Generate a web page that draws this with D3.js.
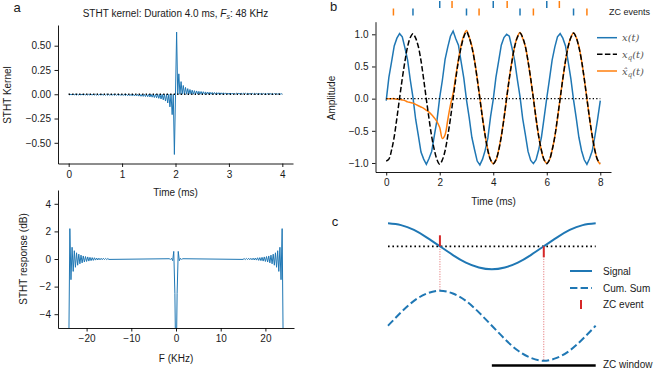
<!DOCTYPE html>
<html>
<head>
<meta charset="utf-8">
<script src="https://cdn.jsdelivr.net/npm/d3@7"></script>
<style>
body { margin: 0; background: #fff; }
svg text { font-family: "Liberation Sans", Arial, sans-serif; fill: #1a1a1a; }
.tick text { font-size: 10px; }
.math { font-family: "DejaVu Serif", serif; font-style: italic; }
</style>
</head>
<body>
<script>
// ---- panel a: STHT kernel, odd-sample amplitudes
var kernelFs = 48; // samples per ms
var kernelRight = [0.64, 0.21, 0.13, 0.09, 0.07, 0.058, 0.049, 0.042, 0.037, 0.034, 0.030, 0.028,
    0.026, 0.024, 0.022, 0.021, 0.019, 0.018, 0.017, 0.016, 0.015, 0.015, 0.014, 0.013,
    0.013, 0.012, 0.012, 0.011, 0.011, 0.011, 0.010, 0.010, 0.010, 0.009, 0.009, 0.009,
    0.008, 0.008, 0.008, 0.008, 0.007, 0.007, 0.007, 0.007, 0.007, 0.006, 0.006, 0.006];
var kernelLeft = [-0.62, -0.21, -0.13, -0.09, -0.07, -0.058, -0.049, -0.042, -0.037, -0.034, -0.030, -0.028,
    -0.026, -0.024, -0.022, -0.021, -0.019, -0.018, -0.017, -0.016, -0.015, -0.015, -0.014, -0.013,
    -0.013, -0.012, -0.012, -0.011, -0.011, -0.011, -0.010, -0.010, -0.010, -0.009, -0.009, -0.009,
    -0.008, -0.008, -0.008, -0.008, -0.007, -0.007, -0.007, -0.007, -0.007, -0.006, -0.006, -0.006];
var kernelTicksX = [0, 1, 2, 3, 4];
var kernelTicksY = [-0.5, -0.25, 0, 0.25, 0.5];

// ---- panel a: STHT response in dB (0.25 KHz grid)
var respStep = 0.25;
var respLeftStart = -24;
var respLeftDb = [-7, 2.2, -1.5, 0.85, -0.9, 0.6, -0.6, 0.45, -0.45, 0.35, -0.35, 0.28, -0.28,
    0.22, -0.22, 0.18, -0.18, 0.15, -0.15, 0.12, -0.12, 0.1, -0.1, 0.09, -0.08, 0.07, -0.07,
    0.06, -0.06, 0.05, -0.05, 0.05, -0.04, 0.04, -0.04, 0.03, -0.03];
var respCenterStart = -1.5;
var respCenterDb = [0.02, -0.03, 0.05, -0.12, 0.55, -2.5, -9, -2.5, 0.55, -0.12, 0.05, -0.03, 0.02];
var respRightStart = 15;
var respRightDb = [-0.03, 0.03, -0.04, 0.04, -0.04, 0.05, -0.05, 0.05, -0.06, 0.06, -0.07, 0.07,
    -0.08, 0.09, -0.1, 0.1, -0.12, 0.12, -0.15, 0.15, -0.18, 0.18, -0.22, 0.22, -0.28, 0.28,
    -0.35, 0.35, -0.45, 0.45, -0.6, 0.6, -0.9, 0.85, -1.5, 2.2, -7];
var respTicksX = [-20, -10, 0, 10, 20];
var respTicksY = [-4, -2, 0, 2, 4];

// ---- panel b: signals, one value every 0.1 ms from 0 to 8 ms
var sigStep = 0.1;
var xSignal = [
    -0.03, 0.33, 0.57, 0.82, 0.94, 1.01, 0.96, 0.79, 0.60, 0.29, 0.02, -0.32, -0.57, -0.83, -0.94, -1.02, -0.93, -0.82, -0.57, -0.33,
    0.02, 0.29, 0.61, 0.80, 0.97, 1.05, 0.93, 0.83, 0.57, 0.32, -0.02, -0.29, -0.60, -0.79, -0.97, -1.03, -0.94, -0.80, -0.61, -0.28,
    -0.01, 0.33, 0.58, 0.83, 0.95, 1.00, 0.97, 0.79, 0.59, 0.30, 0.03, -0.31, -0.56, -0.82, -0.96, -1.01, -0.95, -0.79, -0.60, -0.30,
    0.01, 0.30, 0.60, 0.80, 0.96, 1.01, 0.94, 0.82, 0.57, 0.31, -0.02, -0.30, -0.60, -0.81, -0.95, -1.02, -0.93, -0.81, -0.58, -0.32,
    -0.03];
var xQuad = [
    -0.97, -0.94, -0.80, -0.59, -0.30, 0.01, 0.31, 0.58, 0.81, 0.95, 1.01, 0.94, 0.81, 0.59, 0.30, -0.01, -0.31, -0.59, -0.80, -0.95,
    -1.02, -0.95, -0.81, -0.58, -0.31, 0.00, 0.31, 0.59, 0.80, 0.96, 1.04, 0.95, 0.80, 0.59, 0.31, 0.00, -0.31, -0.58, -0.81, -0.95,
    -1.01, -0.95, -0.81, -0.59, -0.31, 0.01, 0.31, 0.58, 0.81, 0.95, 1.02, 0.95, 0.81, 0.58, 0.31, 0.00, -0.31, -0.59, -0.80, -0.95,
    -1.01, -0.95, -0.80, -0.59, -0.30, 0.00, 0.31, 0.59, 0.81, 0.95, 1.02, 0.95, 0.80, 0.59, 0.31, 0.00, -0.31, -0.58, -0.81, -0.95,
    -1.00];
var xQuadEst = [
    0.00, 0.00, 0.00, 0.00, -0.01, -0.01, -0.02, -0.03, -0.05, -0.06, -0.07, -0.09, -0.11, -0.13, -0.15, -0.18, -0.21, -0.25, -0.30, -0.36,
    -0.45, -0.62, -0.56, -0.33, -0.10, 0.08, 0.35, 0.61, 0.83, 0.98, 1.06, 0.96, 0.82, 0.60, 0.32, 0.01, -0.30, -0.58, -0.80, -0.95,
    -1.01, -0.96, -0.80, -0.58, -0.31, 0.00, 0.32, 0.59, 0.81, 0.96, 1.03, 0.94, 0.81, 0.58, 0.30, 0.01, -0.31, -0.59, -0.81, -0.95,
    -1.00, -0.95, -0.80, -0.59, -0.31, 0.01, 0.31, 0.58, 0.81, 0.95, 1.02, 0.95, 0.81, 0.59, 0.31, 0.00, -0.31, -0.59, -0.80, -0.96,
    -1.02];
var zcSignalUp = [2, 4, 6];
var zcSignalDown = [1, 3, 5, 7];
var zcEstUp = [2.46, 4.52, 6.47];
var zcEstDown = [0.27, 3.47, 5.5, 7.5];
var bTicksX = [0, 2, 4, 6, 8];
var bTicksY = [-1, -0.5, 0, 0.5, 1];

// ---- panel c: schematic, one period in 16 steps
var cSignal = [1, 0.92, 0.71, 0.38, 0, -0.38, -0.71, -0.92, -1, -0.92, -0.71, -0.38, 0, 0.38, 0.71, 0.92, 1];
var cCumSum = [0, 0.38, 0.71, 0.92, 1, 0.92, 0.71, 0.38, 0, -0.38, -0.71, -0.92, -1, -0.92, -0.71, -0.38, 0];
var cZc = [4, 12];
var cWindow = [8, 16];

var blue = "#1f77b4", orange = "#ff7f0e", red = "#d62728";

var svg = d3.select("body").append("svg")
    .attr("width", 654)
    .attr("height", 369);

function axes(g, x, y, tx, ty, fx, fy) {
    g.append("g")
        .attr("transform", "translate(0," + y.range()[0] + ")")
        .call(d3.axisBottom(x).tickValues(tx).tickFormat(fx).tickSize(3.5).tickPadding(3.5).tickSizeOuter(0));
    g.append("g")
        .attr("transform", "translate(" + x.range()[0] + ",0)")
        .call(d3.axisLeft(y).tickValues(ty).tickFormat(fy).tickSize(3.5).tickPadding(3.5).tickSizeOuter(0));
    g.selectAll(".domain").attr("stroke", "#000").attr("stroke-width", 0.9);
    g.selectAll(".tick line").attr("stroke", "#000").attr("stroke-width", 0.9);
    g.selectAll(".tick text").attr("fill", "#1a1a1a");
}

function clip(id, x, y) {
    svg.append("clipPath").attr("id", id).append("rect")
        .attr("x", x.range()[0]).attr("y", y.range()[1])
        .attr("width", x.range()[1] - x.range()[0])
        .attr("height", y.range()[0] - y.range()[1]);
}

function label(txt, x, y, rot, size) {
    return svg.append("text")
        .attr("text-anchor", "middle")
        .attr("font-size", size || 10)
        .attr("transform", "translate(" + x + "," + y + ")" + (rot ? " rotate(-90)" : ""))
        .text(txt);
}

// ================= panel a (top) =================
var kx = d3.scaleLinear().domain([-0.2, 4.2]).range([58, 293]);
var ky = d3.scaleLinear().domain([-0.713, 0.713]).range([163.5, 25]);
var kernel = [];
for (var k = -96; k <= 96; k++) {
    var v = 0;
    if (k % 2 !== 0) v = k > 0 ? kernelRight[(k - 1) / 2] : kernelLeft[(-k - 1) / 2];
    kernel.push({ t: 2 + k / kernelFs, v: v });
}
var ga = svg.append("g");
ga.append("path")
    .datum(kernel)
    .attr("fill", "none")
    .attr("stroke", blue)
    .attr("stroke-width", 1)
    .attr("d", d3.line().x(function (d) { return kx(d.t); }).y(function (d) { return ky(d.v); }));
ga.append("line")
    .attr("x1", kx(0)).attr("x2", kx(4)).attr("y1", ky(0)).attr("y2", ky(0))
    .attr("stroke", "#000").attr("stroke-width", 1.3).attr("stroke-dasharray", "1.3,2.2");
axes(ga, kx, ky, kernelTicksX, kernelTicksY, d3.format("d"), d3.format(".2f"));

var title = svg.append("text")
    .attr("x", 175.5).attr("y", 16.5)
    .attr("text-anchor", "middle")
    .attr("font-size", 10);
title.append("tspan").text("STHT kernel: Duration 4.0 ms, ");
title.append("tspan").attr("font-style", "italic").text("F");
title.append("tspan").attr("font-style", "italic").attr("font-size", 7).attr("dy", 2).text("s");
title.append("tspan").attr("dy", -2).text(": 48 KHz");
label("Time (ms)", 175.5, 195.5);
label("STHT Kernel", 11, 95, true);
label("a", 17, 12, false, 13);

// ================= panel a (bottom) =================
var fx = d3.scaleLinear().domain([-26.4, 26.4]).range([58, 294]);
var fy = d3.scaleLinear().domain([-5, 5]).range([328, 190]);
clip("clipResp", fx, fy);
var resp = [];
respLeftDb.forEach(function (d, i) { resp.push({ f: respLeftStart + i * respStep, v: d }); });
respCenterDb.forEach(function (d, i) { resp.push({ f: respCenterStart + i * respStep, v: d }); });
respRightDb.forEach(function (d, i) { resp.push({ f: respRightStart + i * respStep, v: d }); });
var gr = svg.append("g");
gr.append("path")
    .datum(resp)
    .attr("clip-path", "url(#clipResp)")
    .attr("fill", "none")
    .attr("stroke", blue)
    .attr("stroke-width", 1)
    .attr("d", d3.line().x(function (d) { return fx(d.f); }).y(function (d) { return fy(d.v); }));
axes(gr, fx, fy, respTicksX, respTicksY, d3.format("d"), d3.format("d"));
label("F (KHz)", 176, 361.5);
label("STHT response (dB)", 26.5, 259, true);

// ================= panel b =================
var bx = d3.scaleLinear().domain([-0.4, 8.4]).range([375.5, 611]);
var by = d3.scaleLinear().domain([-1.14, 1.196]).range([172, 21.7]);
var sigLine = d3.line()
    .x(function (d, i) { return bx(i * sigStep); })
    .y(function (d) { return by(d); });
var smoothLine = d3.line()
    .curve(d3.curveCatmullRom)
    .x(function (d, i) { return bx(i * sigStep); })
    .y(function (d) { return by(d); });
var gb = svg.append("g");
gb.append("path").datum(xSignal)
    .attr("fill", "none").attr("stroke", blue).attr("stroke-width", 1.5)
    .attr("d", sigLine);
gb.append("path").datum(xQuadEst)
    .attr("fill", "none").attr("stroke", orange).attr("stroke-width", 1.5)
    .attr("d", smoothLine);
gb.append("path").datum(xQuad)
    .attr("fill", "none").attr("stroke", "#000").attr("stroke-width", 1.5)
    .attr("stroke-dasharray", "5.5,2.4")
    .attr("d", smoothLine);
gb.append("line")
    .attr("x1", bx(0)).attr("x2", bx(8)).attr("y1", by(0)).attr("y2", by(0))
    .attr("stroke", "#000").attr("stroke-width", 1.3).attr("stroke-dasharray", "1.3,2.2");
axes(gb, bx, by, bTicksX, bTicksY, d3.format("d"), d3.format(".1f"));
label("Time (ms)", 493.5, 204.5);
label("Amplitude", 335, 98, true);
label("b", 333.5, 11, false, 13);

// ZC event rows above panel b
var rowY = d3.scalePoint().domain(["up", "down"]).range([4.5, 12]);
var zcRows = [
    { row: "up", color: blue, t: zcSignalUp },
    { row: "up", color: orange, t: zcEstUp },
    { row: "down", color: blue, t: zcSignalDown },
    { row: "down", color: orange, t: zcEstDown }
];
zcRows.forEach(function (r) {
    gb.selectAll(null).data(r.t).enter().append("line")
        .attr("x1", function (d) { return bx(d); })
        .attr("x2", function (d) { return bx(d); })
        .attr("y1", rowY(r.row) - 3.5)
        .attr("y2", rowY(r.row) + 3.5)
        .attr("stroke", r.color)
        .attr("stroke-width", 1.5);
});
svg.append("text").attr("x", 609).attr("y", 14.5).attr("font-size", 9).text("ZC events");

// legend b
var legB = [
    { y: 37.7, color: blue, dash: null, sub: null, hat: false },
    { y: 54.3, color: "#000", dash: "5.5,2.4", sub: "q", hat: false },
    { y: 71, color: orange, dash: null, sub: "q", hat: true }
];
legB.forEach(function (l) {
    gb.append("line")
        .attr("x1", 597).attr("x2", 617).attr("y1", l.y).attr("y2", l.y)
        .attr("stroke", l.color).attr("stroke-width", 1.5)
        .attr("stroke-dasharray", l.dash);
    var t = gb.append("text").attr("class", "math")
        .attr("x", 622).attr("y", l.y + 3.5).attr("font-size", 10).style("fill", "#555");
    t.append("tspan").text(l.hat ? "x\u0302" : "x");
    if (l.sub) {
        t.append("tspan").attr("font-size", 7).attr("dy", 2).text(l.sub);
        t.append("tspan").attr("dy", -2).text("(t)");
    } else {
        t.append("tspan").text("(t)");
    }
});

// ================= panel c =================
var cx = d3.scaleLinear().domain([0, 16]).range([388, 595.7]);
var cy = d3.scaleLinear().domain([-1, 1]).range([269.3, 223.3]);
var cy2 = d3.scaleLinear().domain([-1, 1]).range([360.7, 290.7]);
var gc = svg.append("g");
gc.append("line")
    .attr("x1", cx(0)).attr("x2", cx(16)).attr("y1", cy(0)).attr("y2", cy(0))
    .attr("stroke", "#000").attr("stroke-width", 1.8).attr("stroke-dasharray", "1.6,2.8");
gc.selectAll(".zcguide").data(cZc).enter().append("line")
    .attr("x1", function (d) { return cx(d); })
    .attr("x2", function (d) { return cx(d); })
    .attr("y1", cy(0))
    .attr("y2", function (d) { return cy2(cCumSum[d]); })
    .attr("stroke", red).attr("stroke-opacity", 0.7)
    .attr("stroke-width", 1).attr("stroke-dasharray", "1,1.5");
gc.append("path").datum(cSignal)
    .attr("fill", "none").attr("stroke", blue).attr("stroke-width", 2)
    .attr("d", d3.line().curve(d3.curveNatural).x(function (d, i) { return cx(i); }).y(function (d) { return cy(d); }));
gc.append("path").datum(cCumSum)
    .attr("fill", "none").attr("stroke", blue).attr("stroke-width", 2)
    .attr("stroke-dasharray", "7.4,3.2")
    .attr("d", d3.line().curve(d3.curveNatural).x(function (d, i) { return cx(i); }).y(function (d) { return cy2(d); }));
gc.selectAll(".zc").data(cZc).enter().append("line")
    .attr("x1", function (d) { return cx(d); })
    .attr("x2", function (d) { return cx(d); })
    .attr("y1", function (d) { return cSignal[d + 1] < 0 ? cy(0) - 11 : cy(0); })
    .attr("y2", function (d) { return cSignal[d + 1] < 0 ? cy(0) : cy(0) + 11; })
    .attr("stroke", red).attr("stroke-width", 2);
gc.append("line")
    .attr("x1", cx(cWindow[0])).attr("x2", cx(cWindow[1])).attr("y1", 365.5).attr("y2", 365.5)
    .attr("stroke", "#000").attr("stroke-width", 2.5);
svg.append("text").attr("x", 603).attr("y", 367.5).attr("font-size", 10).text("ZC window");
label("c", 335, 226, false, 13);

// legend c
gc.append("line").attr("x1", 570).attr("x2", 592).attr("y1", 271).attr("y2", 271)
    .attr("stroke", blue).attr("stroke-width", 2);
gc.append("line").attr("x1", 570).attr("x2", 592).attr("y1", 288).attr("y2", 288)
    .attr("stroke", blue).attr("stroke-width", 2).attr("stroke-dasharray", "7.4,3.2");
gc.append("line").attr("x1", 581).attr("x2", 581).attr("y1", 300).attr("y2", 309)
    .attr("stroke", red).attr("stroke-width", 2);
[["Signal", 271], ["Cum. Sum", 288], ["ZC event", 304.5]].forEach(function (d) {
    svg.append("text").attr("x", 603).attr("y", d[1] + 3.5).attr("font-size", 10).text(d[0]);
});
</script>
</body>
</html>
